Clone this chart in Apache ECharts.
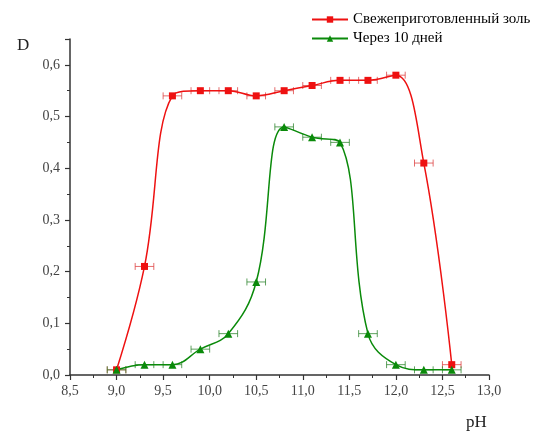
<!DOCTYPE html>
<html><head><meta charset="utf-8">
<script src="https://cdn.jsdelivr.net/npm/echarts@6/dist/echarts.min.js"></script>
<style>html,body{margin:0;padding:0;background:#fff}#c{width:550px;height:440px}</style>
</head><body><div id="c"></div>
<script>
const phValues = [9.0, 9.3, 9.6, 9.9, 10.2, 10.5, 10.8, 11.1, 11.4, 11.7, 12.0, 12.3, 12.6];
const freshSol = [0.01, 0.21, 0.54, 0.55, 0.55, 0.54, 0.55, 0.56, 0.57, 0.57, 0.58, 0.41, 0.02];
const after10Days = [0.01, 0.02, 0.02, 0.05, 0.08, 0.18, 0.48, 0.46, 0.45, 0.08, 0.02, 0.01, 0.01];
const phError = 0.1;
const seriesNames = ['Свежеприготовленный золь', 'Через 10 дней'];
const xAxisName = 'pH';
const yAxisName = 'D';

const font = 'Liberation Serif';
const chart = echarts.init(document.getElementById('c'));
const pairs = arr => phValues.map((x, i) => [x, arr[i]]);
function errSeries(arr, color) {
  return {
    type: 'custom', silent: true, z: 1,
    data: pairs(arr),
    renderItem: (params, api) => {
      const x = api.value(0), y = api.value(1);
      const a = api.coord([x - phError, y]);
      const b = api.coord([x + phError, y]);
      const st = { stroke: color, lineWidth: 1 };
      return { type: 'group', children: [
        { type: 'line', shape: { x1: a[0], y1: a[1], x2: b[0], y2: b[1] }, style: st },
        { type: 'line', shape: { x1: a[0], y1: a[1] - 3.5, x2: a[0], y2: a[1] + 3.5 }, style: st },
        { type: 'line', shape: { x1: b[0], y1: b[1] - 3.5, x2: b[0], y2: b[1] + 3.5 }, style: st }
      ]};
    }
  };
}
const axisCommon = {
  axisLine: { show: true, lineStyle: { color: '#333', width: 1.5 } },
  axisTick: { show: true, inside: false, length: 5, lineStyle: { color: '#333', width: 1.2 } },
  minorTick: { show: true, splitNumber: 2, length: 3, lineStyle: { color: '#333', width: 1 } },
  splitLine: { show: false },
  axisLabel: { color: '#444', fontFamily: font, fontSize: 14, formatter: v => v.toFixed(1).replace('.', ',') }
};
chart.setOption({
  animation: false,
  backgroundColor: '#fff',
  grid: { left: 70, right: 61, top: 39, bottom: 65 },
  legend: {
    top: 7, left: 306, orient: 'vertical', itemGap: 4, itemWidth: 36, itemHeight: 8,
    textStyle: { fontFamily: font, fontSize: 15, color: '#000' },
    data: seriesNames
  },
  xAxis: Object.assign({ type: 'value', min: 8.5, max: 13.0, interval: 0.5 }, axisCommon,
    { axisLabel: Object.assign({}, axisCommon.axisLabel, { margin: 9 }) }),
  yAxis: Object.assign({ type: 'value', min: 0, max: 0.65, interval: 0.1 }, axisCommon,
    { axisLabel: Object.assign({}, axisCommon.axisLabel, { margin: 10, showMaxLabel: false }) }),
  graphic: [
    { type: 'text', left: 17, top: 37, style: { text: yAxisName, font: '17px "Liberation Serif"', fill: '#222' } },
    { type: 'text', left: 466, top: 414, style: { text: xAxisName, font: '17px "Liberation Serif"', fill: '#222' } }
  ],
  series: [
    errSeries(freshSol, 'rgba(220,60,60,0.75)'),
    errSeries(after10Days, 'rgba(40,130,40,0.75)'),
    { name: seriesNames[0], type: 'line', smooth: 0.4, data: pairs(freshSol), z: 3,
      symbol: 'rect', symbolSize: 7, showAllSymbol: true,
      itemStyle: { color: '#ee1111' }, lineStyle: { color: '#ee1111', width: 1.5 } },
    { name: seriesNames[1], type: 'line', smooth: 0.4, data: pairs(after10Days), z: 3,
      symbol: 'triangle', symbolSize: 8, showAllSymbol: true,
      itemStyle: { color: '#0a8a0a' }, lineStyle: { color: '#0a8a0a', width: 1.5 } }
  ]
});
</script></body></html>
